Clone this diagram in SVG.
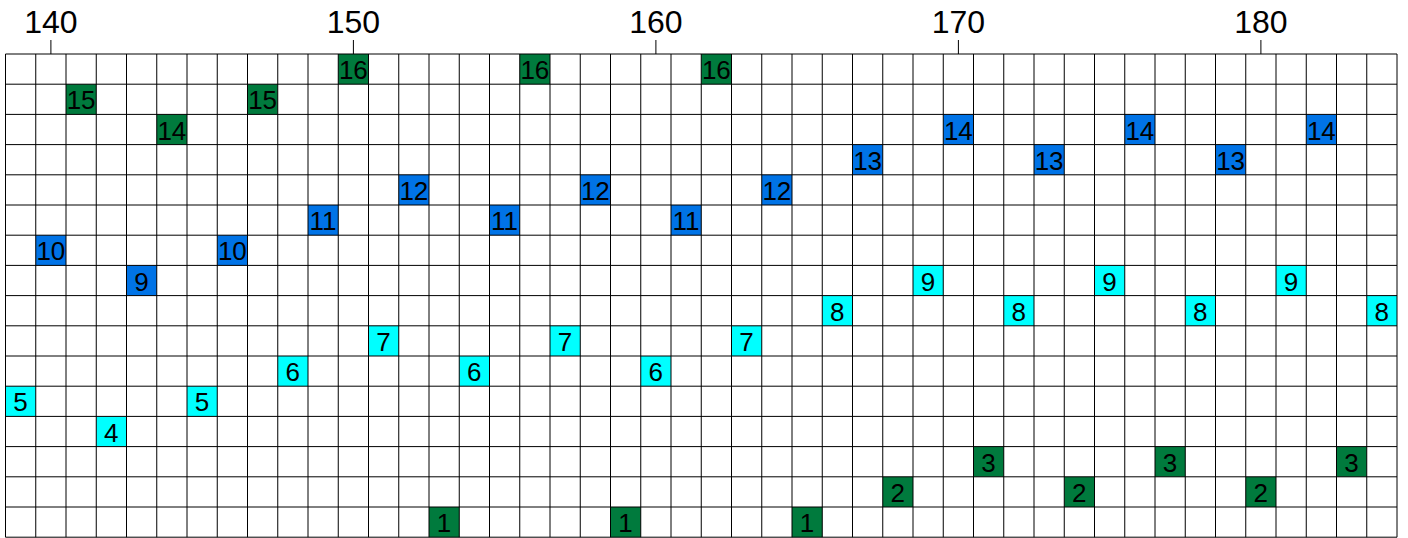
<svg xmlns="http://www.w3.org/2000/svg" width="1408" height="538" viewBox="0 0 1408 538">
<style>
.g{fill:#007a3d}.b{fill:#0073e6}.c{fill:#00ffff}
.cell text{font-family:"Liberation Sans",Arial,sans-serif;font-size:26px;fill:#000;text-anchor:middle}
.tick text{font-family:"Liberation Sans",Arial,sans-serif;font-size:32px;fill:#000;text-anchor:middle}
.grid,.tick line{stroke:#000;stroke-width:1;fill:none}
</style>
<rect width="1408" height="538" fill="#fff"/>
<defs>
<rect id="box" x="0" y="0" width="30.25" height="30.2"/>
</defs>
<g id="axis" class="tick">
<line x1="50.9" y1="40" x2="50.9" y2="54"/><text x="50.9" y="33">140</text>
<line x1="353.4" y1="40" x2="353.4" y2="54"/><text x="353.4" y="33">150</text>
<line x1="655.9" y1="40" x2="655.9" y2="54"/><text x="655.9" y="33">160</text>
<line x1="958.4" y1="40" x2="958.4" y2="54"/><text x="958.4" y="33">170</text>
<line x1="1260.9" y1="40" x2="1260.9" y2="54"/><text x="1260.9" y="33">180</text>
</g>
<g id="cells">
<g id="n16a" class="cell" transform="translate(338.25,54)"><use href="#box" class="g"/><text x="15.1" y="25.3">16</text></g>
<g id="n16b" class="cell" transform="translate(519.75,54)"><use href="#box" class="g"/><text x="15.1" y="25.3">16</text></g>
<g id="n16c" class="cell" transform="translate(701.25,54)"><use href="#box" class="g"/><text x="15.1" y="25.3">16</text></g>
<g id="n15a" class="cell" transform="translate(66,84.2)"><use href="#box" class="g"/><text x="15.1" y="25.3">15</text></g>
<g id="n15b" class="cell" transform="translate(247.5,84.2)"><use href="#box" class="g"/><text x="15.1" y="25.3">15</text></g>
<g id="n14a" class="cell" transform="translate(156.75,114.4)"><use href="#box" class="g"/><text x="15.1" y="25.3">14</text></g>
<g id="n14b" class="cell" transform="translate(943.25,114.4)"><use href="#box" class="b"/><text x="15.1" y="25.3">14</text></g>
<g id="n14c" class="cell" transform="translate(1124.75,114.4)"><use href="#box" class="b"/><text x="15.1" y="25.3">14</text></g>
<g id="n14d" class="cell" transform="translate(1306.25,114.4)"><use href="#box" class="b"/><text x="15.1" y="25.3">14</text></g>
<g id="n13a" class="cell" transform="translate(852.5,144.6)"><use href="#box" class="b"/><text x="15.1" y="25.3">13</text></g>
<g id="n13b" class="cell" transform="translate(1034,144.6)"><use href="#box" class="b"/><text x="15.1" y="25.3">13</text></g>
<g id="n13c" class="cell" transform="translate(1215.5,144.6)"><use href="#box" class="b"/><text x="15.1" y="25.3">13</text></g>
<g id="n12a" class="cell" transform="translate(398.75,174.8)"><use href="#box" class="b"/><text x="15.1" y="25.3">12</text></g>
<g id="n12b" class="cell" transform="translate(580.25,174.8)"><use href="#box" class="b"/><text x="15.1" y="25.3">12</text></g>
<g id="n12c" class="cell" transform="translate(761.75,174.8)"><use href="#box" class="b"/><text x="15.1" y="25.3">12</text></g>
<g id="n11a" class="cell" transform="translate(308,205)"><use href="#box" class="b"/><text x="15.1" y="25.3">11</text></g>
<g id="n11b" class="cell" transform="translate(489.5,205)"><use href="#box" class="b"/><text x="15.1" y="25.3">11</text></g>
<g id="n11c" class="cell" transform="translate(671,205)"><use href="#box" class="b"/><text x="15.1" y="25.3">11</text></g>
<g id="n10a" class="cell" transform="translate(35.75,235.2)"><use href="#box" class="b"/><text x="15.1" y="25.3">10</text></g>
<g id="n10b" class="cell" transform="translate(217.25,235.2)"><use href="#box" class="b"/><text x="15.1" y="25.3">10</text></g>
<g id="n9a" class="cell" transform="translate(126.5,265.4)"><use href="#box" class="b"/><text x="15.1" y="25.3">9</text></g>
<g id="n9b" class="cell" transform="translate(913,265.4)"><use href="#box" class="c"/><text x="15.1" y="25.3">9</text></g>
<g id="n9c" class="cell" transform="translate(1094.5,265.4)"><use href="#box" class="c"/><text x="15.1" y="25.3">9</text></g>
<g id="n9d" class="cell" transform="translate(1276,265.4)"><use href="#box" class="c"/><text x="15.1" y="25.3">9</text></g>
<g id="n8a" class="cell" transform="translate(822.25,295.6)"><use href="#box" class="c"/><text x="15.1" y="25.3">8</text></g>
<g id="n8b" class="cell" transform="translate(1003.75,295.6)"><use href="#box" class="c"/><text x="15.1" y="25.3">8</text></g>
<g id="n8c" class="cell" transform="translate(1185.25,295.6)"><use href="#box" class="c"/><text x="15.1" y="25.3">8</text></g>
<g id="n8d" class="cell" transform="translate(1366.75,295.6)"><use href="#box" class="c"/><text x="15.1" y="25.3">8</text></g>
<g id="n7a" class="cell" transform="translate(368.5,325.8)"><use href="#box" class="c"/><text x="15.1" y="25.3">7</text></g>
<g id="n7b" class="cell" transform="translate(550,325.8)"><use href="#box" class="c"/><text x="15.1" y="25.3">7</text></g>
<g id="n7c" class="cell" transform="translate(731.5,325.8)"><use href="#box" class="c"/><text x="15.1" y="25.3">7</text></g>
<g id="n6a" class="cell" transform="translate(277.75,356)"><use href="#box" class="c"/><text x="15.1" y="25.3">6</text></g>
<g id="n6b" class="cell" transform="translate(459.25,356)"><use href="#box" class="c"/><text x="15.1" y="25.3">6</text></g>
<g id="n6c" class="cell" transform="translate(640.75,356)"><use href="#box" class="c"/><text x="15.1" y="25.3">6</text></g>
<g id="n5a" class="cell" transform="translate(5.5,386.2)"><use href="#box" class="c"/><text x="15.1" y="25.3">5</text></g>
<g id="n5b" class="cell" transform="translate(187,386.2)"><use href="#box" class="c"/><text x="15.1" y="25.3">5</text></g>
<g id="n4a" class="cell" transform="translate(96.25,416.4)"><use href="#box" class="c"/><text x="15.1" y="25.3">4</text></g>
<g id="n3a" class="cell" transform="translate(973.5,446.6)"><use href="#box" class="g"/><text x="15.1" y="25.3">3</text></g>
<g id="n3b" class="cell" transform="translate(1155,446.6)"><use href="#box" class="g"/><text x="15.1" y="25.3">3</text></g>
<g id="n3c" class="cell" transform="translate(1336.5,446.6)"><use href="#box" class="g"/><text x="15.1" y="25.3">3</text></g>
<g id="n2a" class="cell" transform="translate(882.75,476.8)"><use href="#box" class="g"/><text x="15.1" y="25.3">2</text></g>
<g id="n2b" class="cell" transform="translate(1064.25,476.8)"><use href="#box" class="g"/><text x="15.1" y="25.3">2</text></g>
<g id="n2c" class="cell" transform="translate(1245.75,476.8)"><use href="#box" class="g"/><text x="15.1" y="25.3">2</text></g>
<g id="n1a" class="cell" transform="translate(429,507)"><use href="#box" class="g"/><text x="15.1" y="25.3">1</text></g>
<g id="n1b" class="cell" transform="translate(610.5,507)"><use href="#box" class="g"/><text x="15.1" y="25.3">1</text></g>
<g id="n1c" class="cell" transform="translate(792,507)"><use href="#box" class="g"/><text x="15.1" y="25.3">1</text></g>
</g>
<g id="grid">
<path class="grid" d="M5.5 54V537.2M35.75 54V537.2M66 54V537.2M96.25 54V537.2M126.5 54V537.2M156.75 54V537.2M187 54V537.2M217.25 54V537.2M247.5 54V537.2M277.75 54V537.2M308 54V537.2M338.25 54V537.2M368.5 54V537.2M398.75 54V537.2M429 54V537.2M459.25 54V537.2M489.5 54V537.2M519.75 54V537.2M550 54V537.2M580.25 54V537.2M610.5 54V537.2M640.75 54V537.2M671 54V537.2M701.25 54V537.2M731.5 54V537.2M761.75 54V537.2M792 54V537.2M822.25 54V537.2M852.5 54V537.2M882.75 54V537.2M913 54V537.2M943.25 54V537.2M973.5 54V537.2M1003.75 54V537.2M1034 54V537.2M1064.25 54V537.2M1094.5 54V537.2M1124.75 54V537.2M1155 54V537.2M1185.25 54V537.2M1215.5 54V537.2M1245.75 54V537.2M1276 54V537.2M1306.25 54V537.2M1336.5 54V537.2M1366.75 54V537.2M1397 54V537.2"/>
<path class="grid" d="M5.5 54H1397M5.5 84.2H1397M5.5 114.4H1397M5.5 144.6H1397M5.5 174.8H1397M5.5 205H1397M5.5 235.2H1397M5.5 265.4H1397M5.5 295.6H1397M5.5 325.8H1397M5.5 356H1397M5.5 386.2H1397M5.5 416.4H1397M5.5 446.6H1397M5.5 476.8H1397M5.5 507H1397M5.5 537.2H1397"/>
</g>
</svg>
